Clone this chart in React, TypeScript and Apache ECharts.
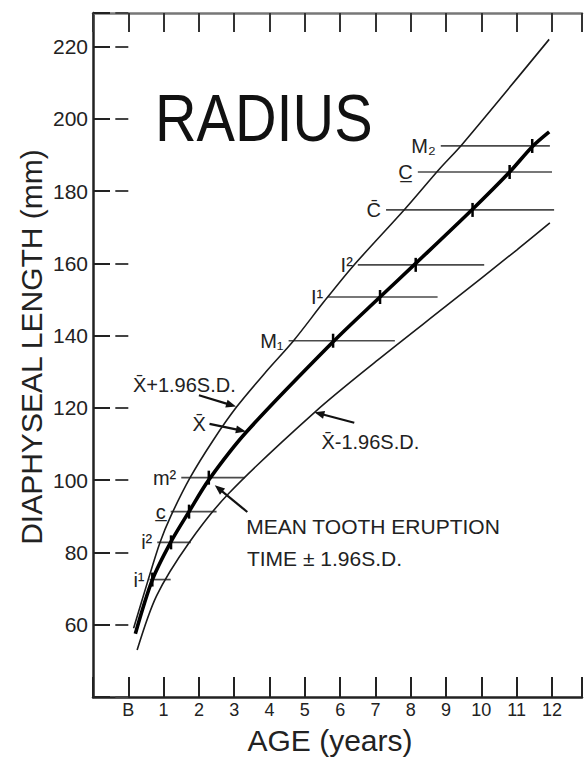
import React, { useEffect, useRef } from "react";
import * as echarts from "echarts";

const FONT = "'Liberation Sans', Arial, sans-serif";

// Age in years (B = birth = 0), length in mm
const upperAge = [0.15, 0.55, 0.9, 1.2, 1.75, 2.4, 3.07, 3.9, 4.68, 5.55, 6.37, 7.83, 8.8, 9.46, 11.92];
const upperLen = [59, 72, 82.8, 90, 100.7, 111, 120.3, 130, 138.6, 149.5, 159.3, 175, 186, 193, 222];

const meanAge = [0.2, 0.68, 1.21, 1.72, 2.28, 3.35, 5.8, 7.13, 8.14, 9.75, 10.8, 11.44, 11.92];
const meanLen = [57.5, 72.4, 83, 91.3, 100.1, 113.4, 138.3, 150.7, 160, 175, 185.3, 192.3, 196.4];

const lowerAge = [0.25, 0.8, 1.72, 2.85, 5.3, 7.07, 9.04, 11.0, 11.94];
const lowerLen = [53, 68, 82.7, 96.4, 119, 133.3, 148.5, 163.7, 171.2];

// Mean tooth eruption time ± 1.96 S.D.
const toothNames = ["i\u00b9", "i\u00b2", "c\u0332", "m\u00b2", "M\u2081", "I\u00b9", "I\u00b2", "C\u0304", "C\u0332", "M\u2082"];
const toothLength = [72.5, 82.8, 91.3, 100.7, 138.6, 150.7, 159.6, 174.8, 185.3, 192.5];
const toothStart = [0.6, 0.82, 1.2, 1.5, 4.54, 5.66, 6.5, 7.3, 8.2, 8.85];
const toothEnd = [1.2, 1.77, 2.5, 3.3, 7.55, 8.76, 10.08, 12.06, 12.0, 11.94];
const toothMean = [0.68, 1.21, 1.72, 2.28, 5.8, 7.13, 8.14, 9.75, 10.8, 11.44];

const xTicks = ["B", "1", "2", "3", "4", "5", "6", "7", "8", "9", "10", "11", "12"];
const yTicks = [60, 80, 100, 120, 140, 160, 180, 200, 220];

export default function App() {
  const ref = useRef<HTMLDivElement>(null);

  useEffect(() => {
    if (!ref.current) return;
    const chart = echarts.init(ref.current, null, { renderer: "svg" });

    const axisLineStyle = { color: "#222", width: 2.5 };
    const tickStyle = { color: "#222", width: 2 };

    chart.setOption({
      animation: false,
      backgroundColor: "#fff",
      grid: { left: 93, top: 13, right: 0, bottom: 74, containLabel: false },
      xAxis: [
        {
          type: "value", min: -1, max: 12.85, interval: 1, position: "bottom",
          axisLine: { show: true, onZero: false, lineStyle: axisLineStyle },
          axisTick: { show: true, inside: true, length: 20, lineStyle: tickStyle },
          axisLabel: {
            margin: 4, fontSize: 18, color: "#222", fontFamily: FONT,
            formatter: (v: number) => (Number.isInteger(v) && v >= 0 && v <= 12 ? xTicks[v] : ""),
          },
          splitLine: { show: false },
        },
        {
          type: "value", min: -1, max: 12.85, interval: 1, position: "top",
          axisLine: { show: true, onZero: false, lineStyle: { color: "#777", width: 2.5 } },
          axisTick: { show: true, inside: true, length: 19, lineStyle: { color: "#333", width: 2 } },
          axisLabel: { show: false },
          splitLine: { show: false },
        },
      ],
      yAxis: [
        {
          type: "value", min: 40, max: 229.3, interval: 20, position: "left",
          axisLine: { show: true, onZero: false, lineStyle: axisLineStyle },
          axisTick: { show: true, inside: true, length: 17, lineStyle: tickStyle },
          axisLabel: {
            margin: 5, fontSize: 21, color: "#222", fontFamily: FONT,
            formatter: (v: number) => (yTicks.indexOf(v) >= 0 ? String(v) : ""),
          },
          splitLine: { show: false },
        },
        {
          type: "value", min: 40, max: 229.3, interval: 20, position: "right",
          axisLine: { show: false },
          axisTick: { show: true, inside: true, length: 13, lineStyle: { color: "#444", width: 2 } },
          axisLabel: { show: false },
          splitLine: { show: false },
        },
      ],
      series: [
        {
          name: "X+1.96SD", type: "line", xAxisIndex: 0, yAxisIndex: 0,
          data: upperAge.map((a, i) => [a, upperLen[i]]),
          smooth: 0.3, showSymbol: false,
          lineStyle: { color: "#1a1a1a", width: 1.6 },
        },
        {
          name: "Mean", type: "line", xAxisIndex: 0, yAxisIndex: 0,
          data: meanAge.map((a, i) => [a, meanLen[i]]),
          smooth: 0.3, showSymbol: false,
          lineStyle: { color: "#000", width: 3.6 },
        },
        {
          name: "X-1.96SD", type: "line", xAxisIndex: 0, yAxisIndex: 0,
          data: lowerAge.map((a, i) => [a, lowerLen[i]]),
          smooth: 0.3, showSymbol: false,
          lineStyle: { color: "#1a1a1a", width: 1.6 },
        },
        {
          name: "Tooth eruption", type: "custom", xAxisIndex: 0, yAxisIndex: 0,
          data: toothNames.map((_, i) => [toothStart[i], toothEnd[i], toothLength[i], toothMean[i]]),
          renderItem: (params: any, api: any) => {
            const s = api.coord([api.value(0), api.value(2)]);
            const e = api.coord([api.value(1), api.value(2)]);
            const m = api.coord([api.value(3), api.value(2)]);
            return {
              type: "group",
              children: [
                { type: "line", shape: { x1: s[0], y1: s[1], x2: e[0], y2: e[1] }, style: { stroke: "#4a4a4a", lineWidth: 1.7 } },
                { type: "line", shape: { x1: m[0], y1: m[1] - 7, x2: m[0], y2: m[1] + 7 }, style: { stroke: "#000", lineWidth: 2.5 } },
                {
                  type: "text", x: s[0] - 5, y: s[1],
                  style: { text: toothNames[params.dataIndex], fontSize: 20, fontFamily: FONT, fill: "#222", align: "right", verticalAlign: "middle" },
                },
              ],
            };
          },
        },
      ],
    });

    const px = (x: number, y: number) => chart.convertToPixel({ xAxisIndex: 0, yAxisIndex: 0 }, [x, y]) as number[];

    const notes = [
      { text: "X\u0304+1.96S.D.", at: [0.13, 126.4], size: 20 },
      { text: "X\u0304", at: [1.82, 115.6], size: 20 },
      { text: "X\u0304-1.96S.D.", at: [5.47, 110.6], size: 20 },
      { text: "MEAN TOOTH ERUPTION", at: [3.34, 87.3], size: 21 },
      { text: "TIME \u00b1 1.96S.D.", at: [3.36, 78.2], size: 21 },
    ];
    const arrows = [
      { from: [2.0, 123.5], to: [3.05, 120.4] },
      { from: [2.3, 115.6], to: [3.33, 113.5] },
      { from: [6.4, 115.9], to: [5.27, 118.8] },
      { from: [3.37, 91.2], to: [2.45, 98.6] },
    ];

    const graphics: any[] = [
      {
        type: "text", x: 155, y: 117, scaleX: 0.86,
        style: { text: "RADIUS", fontSize: 67, fontFamily: FONT, fill: "#111", align: "left", verticalAlign: "middle" },
      },
      {
        type: "text", x: 31, y: 347, rotation: Math.PI / 2,
        style: { text: "DIAPHYSEAL LENGTH (mm)", fontSize: 30, fontFamily: FONT, fill: "#222", align: "center", verticalAlign: "middle" },
      },
      {
        type: "text", x: 330, y: 740,
        style: { text: "AGE (years)", fontSize: 30, fontFamily: FONT, fill: "#222", align: "center", verticalAlign: "middle" },
      },
    ];
    notes.forEach((n) => {
      const p = px(n.at[0], n.at[1]);
      graphics.push({
        type: "text", x: p[0], y: p[1],
        style: { text: n.text, fontSize: n.size, fontFamily: FONT, fill: "#222", align: "left", verticalAlign: "middle" },
      });
    });
    arrows.forEach((a) => {
      const p0 = px(a.from[0], a.from[1]);
      const p1 = px(a.to[0], a.to[1]);
      const dx = p1[0] - p0[0];
      const dy = p1[1] - p0[1];
      const L = Math.sqrt(dx * dx + dy * dy) || 1;
      const ux = dx / L, uy = dy / L;
      const nx = -uy, ny = ux;
      const hl = 10, hw = 4;
      graphics.push({ type: "line", shape: { x1: p0[0], y1: p0[1], x2: p1[0] - ux * 4, y2: p1[1] - uy * 4 }, style: { stroke: "#111", lineWidth: 2.2 } });
      graphics.push({
        type: "polygon",
        shape: {
          points: [
            [p1[0], p1[1]],
            [p1[0] - ux * hl + nx * hw, p1[1] - uy * hl + ny * hw],
            [p1[0] - ux * hl - nx * hw, p1[1] - uy * hl - ny * hw],
          ],
        },
        style: { fill: "#111" },
      });
    });

    chart.setOption({ graphic: graphics });

    return () => chart.dispose();
  }, []);

  return (
    <div
      ref={ref}
      style={{ position: "fixed", left: 0, top: 0, width: 585, height: 771, background: "#fff" }}
    />
  );
}
